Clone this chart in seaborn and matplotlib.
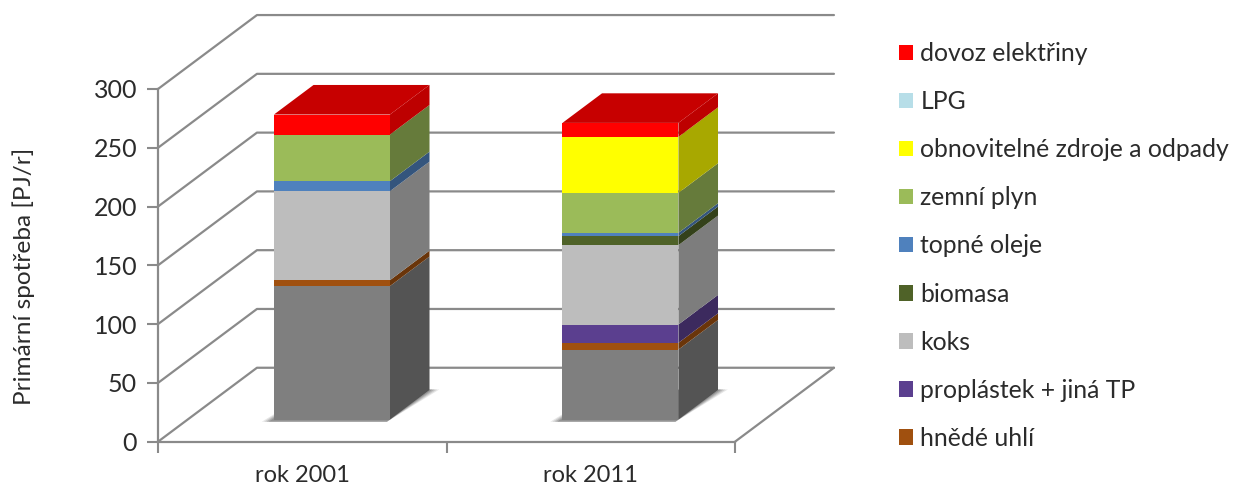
import numpy as np
import matplotlib
matplotlib.use("Agg")
import matplotlib.pyplot as plt
from matplotlib.colors import to_rgb
from matplotlib.patches import Patch
from matplotlib.transforms import Affine2D
import seaborn as sns

years = ["rok 2001", "rok 2011"]

# Stacked from the floor upwards, values in PJ/r
series_names = ["černé uhlí", "hnědé uhlí", "proplástek + jiná TP", "koks", "biomasa",
                "topné oleje", "zemní plyn", "obnovitelné zdroje a odpady", "LPG",
                "dovoz elektřiny"]
cerne_uhli = [113.5, 59.5]
hnede_uhli = [5.0, 5.7]
proplastek = [0.0, 15.6]
koks = [75.7, 67.5]
biomasa = [0.0, 7.7]
topne_oleje = [8.5, 2.8]
zemni_plyn = [39.7, 34.0]
obnovitelne = [0.0, 47.6]
lpg = [0.0, 0.0]
dovoz = [17.0, 11.9]
series_values = [cerne_uhli, hnede_uhli, proplastek, koks, biomasa,
                 topne_oleje, zemni_plyn, obnovitelne, lpg, dovoz]
series_colors = ["#7F7F7F", "#A0500F", "#5B3F8F", "#BDBDBD", "#4F6228",
                 "#4F81BD", "#9BBB59", "#FFFF00", "#B7DEE8", "#FF0000"]
y_ticks = [0, 50, 100, 150, 200, 250, 300]

# Oblique projection of the 3D box: full depth expressed in data units
DEPTH_X = 0.343
DEPTH_Y = 62.9
BAR_FRONT = 0.30
BAR_BACK = 0.70
BAR_WIDTH = 0.402
AXIS_GREY = "#8A8A8A"
TEXT = "#2B2B2B"


def project(x, v, depth):
    return x + depth * DEPTH_X, v + depth * DEPTH_Y


def shade(color, factor):
    return tuple(c * factor for c in to_rgb(color))


sns.set_theme(style="white")
plt.rcParams["font.family"] = ["Lato", "DejaVu Sans"]

W, H = 1234, 488
fig = plt.figure(figsize=(W / 100, H / 100), dpi=100, facecolor="white")
ax = fig.add_axes([158 / W, 1 - 441.7 / H, (735 - 158) / W, (441.7 - 89) / H])
ax.patch.set_alpha(0)

# Wall and floor lines
wall_kw = dict(color=AXIS_GREY, lw=1.6, clip_on=False, zorder=1, solid_capstyle="round")
for v in y_ticks:
    bx, by = project(-0.5, v, 1)
    ex, ey = project(1.5, v, 1)
    ax.plot([-0.5, bx, ex], [v, by, ey], **wall_kw)
fx, fy = project(1.5, 0, 1)
ax.plot([1.5, fx], [0, fy], **wall_kw)

# Front faces of the stacks
front_shift = Affine2D().translate(*project(0, 0, BAR_FRONT)) + ax.transData
bottoms = np.zeros(len(years))
for values, color in zip(series_values, series_colors):
    values = np.asarray(values)
    sns.barplot(x=years, y=values, bottom=bottoms, color=color, saturation=1,
                width=BAR_WIDTH, linewidth=0, ax=ax, zorder=4)
    for bar in ax.containers[-1]:
        bar.set_transform(front_shift)
        bar.set_clip_on(False)
    bottoms = bottoms + values
ax.set_xlim(-0.5, 1.5)
ax.set_ylim(0, 300)

# Side faces, top faces and the soft shadow on the floor
for i in range(len(years)):
    left = i - BAR_WIDTH / 2
    right = i + BAR_WIDTH / 2
    for grow, alpha in zip((0.032, 0.024, 0.016, 0.008), (0.14, 0.18, 0.24, 0.30)):
        corners = [project(left - grow, 0, BAR_FRONT - 0.03),
                   project(right, 0, BAR_FRONT - 0.03),
                   project(right + grow, 0, BAR_BACK + 0.006),
                   project(left, 0, BAR_BACK)]
        ax.fill(*zip(*corners), color="#555555", alpha=alpha, lw=0, zorder=2, clip_on=False)
    level = 0.0
    for values, color in zip(series_values, series_colors):
        upper = level + values[i]
        side = [project(right, level, BAR_FRONT), project(right, upper, BAR_FRONT),
                project(right, upper, BAR_BACK), project(right, level, BAR_BACK)]
        factor = 0.74 if color == "#FF0000" else 0.66
        ax.fill(*zip(*side), color=shade(color, factor), lw=0, zorder=3, clip_on=False)
        level = upper
    top = [project(left, level, BAR_FRONT), project(right, level, BAR_FRONT),
           project(right, level, BAR_BACK), project(left, level, BAR_BACK)]
    ax.fill(*zip(*top), color=shade(series_colors[-1], 0.78), lw=0, zorder=5, clip_on=False)

# Axes
sns.despine(ax=ax, top=True, right=True)
for name in ("left", "bottom"):
    ax.spines[name].set_color(AXIS_GREY)
    ax.spines[name].set_linewidth(1.6)
    ax.spines[name].set_zorder(1.5)
ax.set_yticks(y_ticks)
ax.set_xticks([0, 1], years)
ax.set_xticks([-0.5, 0.5, 1.5], minor=True)
ax.tick_params(axis="y", length=8, width=1.5, color=AXIS_GREY, labelsize=18,
               labelcolor=TEXT, pad=7, left=True)
ax.tick_params(axis="x", which="major", length=0, labelsize=17, labelcolor=TEXT, pad=17)
ax.tick_params(axis="x", which="minor", length=8, width=1.5, color=AXIS_GREY, bottom=True)
ax.set_xlabel("")
ax.set_ylabel("")
fig.text(24 / W, 1 - 276 / H, "Primární spotřeba [PJ/r]", rotation=90, ha="center",
         va="center", fontsize=17.6, color=TEXT)

# Legend, newest series on top
legend_order = [9, 8, 7, 6, 5, 4, 3, 2, 1]
handles = [Patch(facecolor=series_colors[k], edgecolor="none", label=series_names[k])
           for k in legend_order]
fs = 17.8
ax.legend(handles=handles, loc="upper left", bbox_to_anchor=(899 / W, 1 - 42 / H),
          bbox_transform=fig.transFigure, frameon=False, fontsize=fs,
          handlelength=10.4 / fs, handleheight=10.4 / fs, handletextpad=0.28,
          labelspacing=1.016, labelcolor=TEXT, borderpad=0, borderaxespad=0)

fig.savefig("out.png", dpi=100)
